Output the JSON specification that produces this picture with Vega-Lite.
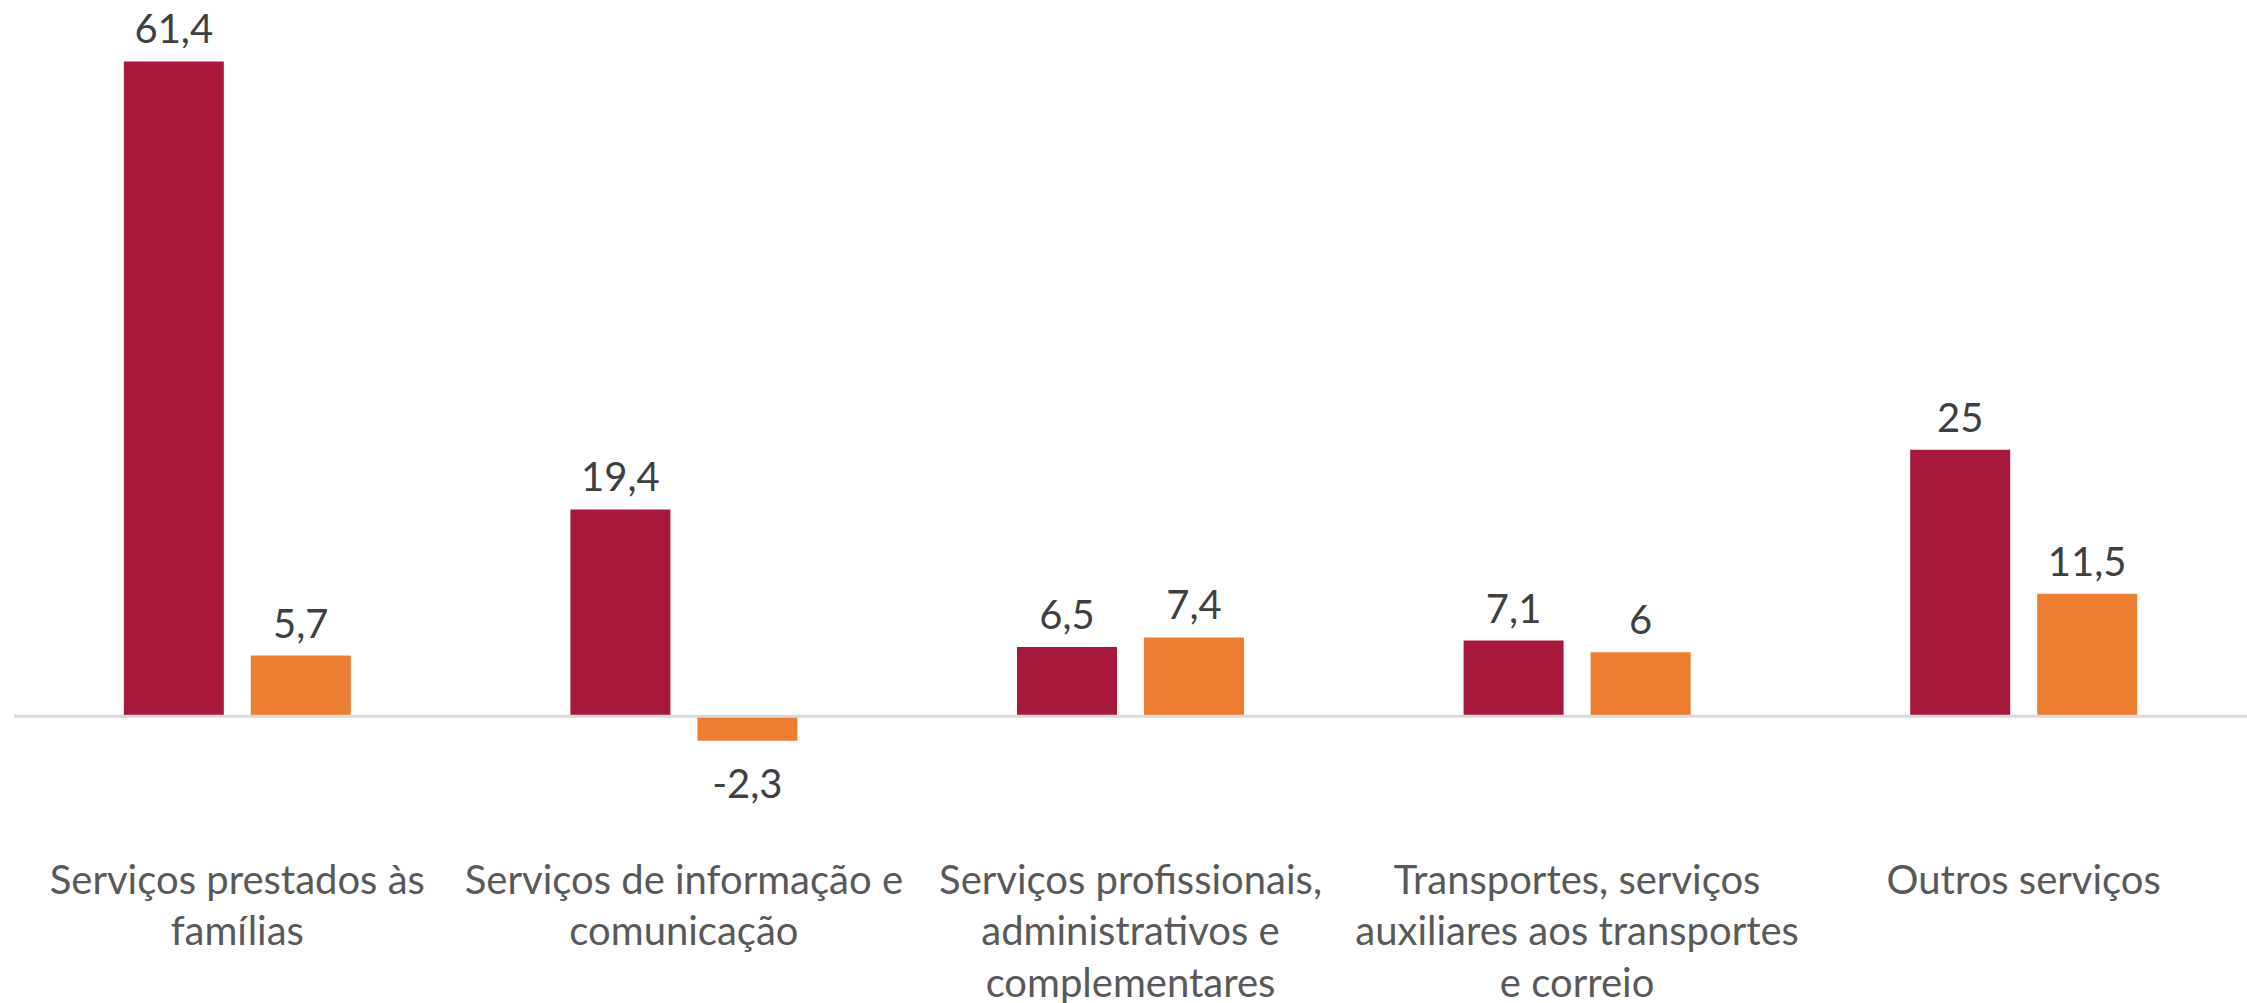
{
  "$schema": "https://vega.github.io/schema/vega-lite/v6.json",
  "autosize": "none",
  "padding": {"left": 14, "top": 55, "right": 0, "bottom": 164},
  "width": 2233,
  "height": 784,
  "background": "white",
  "config": {
    "view": {"stroke": null},
    "font": "Lato",
    "locale": {"number": {"decimal": ",", "thousands": ".", "grouping": [3], "currency": ["", " €"], "minus": "-"}}
  },
  "data": {
    "values": [
      {"categoria": "Serviços prestados às famílias", "serie": "Série 1", "valor": 61.4},
      {"categoria": "Serviços prestados às famílias", "serie": "Série 2", "valor": 5.7},
      {"categoria": "Serviços de informação e comunicação", "serie": "Série 1", "valor": 19.4},
      {"categoria": "Serviços de informação e comunicação", "serie": "Série 2", "valor": -2.3},
      {"categoria": "Serviços profissionais, administrativos e complementares", "serie": "Série 1", "valor": 6.5},
      {"categoria": "Serviços profissionais, administrativos e complementares", "serie": "Série 2", "valor": 7.4},
      {"categoria": "Transportes, serviços auxiliares aos transportes e correio", "serie": "Série 1", "valor": 7.1},
      {"categoria": "Transportes, serviços auxiliares aos transportes e correio", "serie": "Série 2", "valor": 6},
      {"categoria": "Outros serviços", "serie": "Série 1", "valor": 25},
      {"categoria": "Outros serviços", "serie": "Série 2", "valor": 11.5}
    ]
  },
  "encoding": {
    "x": {
      "field": "categoria",
      "type": "nominal",
      "sort": null,
      "scale": {"paddingInner": 0, "paddingOuter": 0},
      "axis": {
        "title": null,
        "domain": false,
        "ticks": false,
        "tickSize": 0,
        "grid": false,
        "labelAngle": 0,
        "labelFont": "Lato",
        "labelFontSize": 40,
        "labelColor": "#595959",
        "labelBaseline": "alphabetic",
        "labelPadding": 54,
        "labelLineHeight": 51.6,
        "labelLimit": 0,
        "labelExpr": "datum.value == 'Serviços prestados às famílias' ? ['Serviços prestados às', 'famílias'] : datum.value == 'Serviços de informação e comunicação' ? ['Serviços de informação e', 'comunicação'] : datum.value == 'Serviços profissionais, administrativos e complementares' ? ['Serviços profissionais,', 'administrativos e', 'complementares'] : datum.value == 'Transportes, serviços auxiliares aos transportes e correio' ? ['Transportes, serviços', 'auxiliares aos transportes', 'e correio'] : datum.value"
      }
    },
    "xOffset": {
      "field": "serie",
      "type": "nominal",
      "scale": {"paddingInner": 0.2126, "paddingOuter": 0.8646}
    },
    "y": {
      "field": "valor",
      "type": "quantitative",
      "scale": {"domain": [-11.5, 62], "nice": false, "zero": false},
      "axis": null
    }
  },
  "layer": [
    {
      "mark": {"type": "bar"},
      "encoding": {
        "color": {
          "field": "serie",
          "type": "nominal",
          "scale": {"domain": ["Série 1", "Série 2"], "range": ["#A6193C", "#ED7D31"]},
          "legend": null
        }
      }
    },
    {
      "transform": [{"filter": "datum.valor >= 0"}],
      "mark": {"type": "text", "baseline": "alphabetic", "dy": -18, "fontSize": 40, "color": "#404040", "font": "Lato"},
      "encoding": {"text": {"field": "valor", "type": "quantitative", "format": ".1~f"}}
    },
    {
      "transform": [{"filter": "datum.valor < 0"}],
      "mark": {"type": "text", "baseline": "alphabetic", "dy": 57, "fontSize": 40, "color": "#404040", "font": "Lato"},
      "encoding": {"text": {"field": "valor", "type": "quantitative", "format": ".1~f"}}
    },
    {
      "data": {"values": [{"zero": 0}]},
      "mark": {"type": "rule", "color": "#D9D9D9", "strokeWidth": 3},
      "encoding": {
        "y": {"field": "zero", "type": "quantitative"},
        "x": null,
        "xOffset": null
      }
    }
  ]
}
